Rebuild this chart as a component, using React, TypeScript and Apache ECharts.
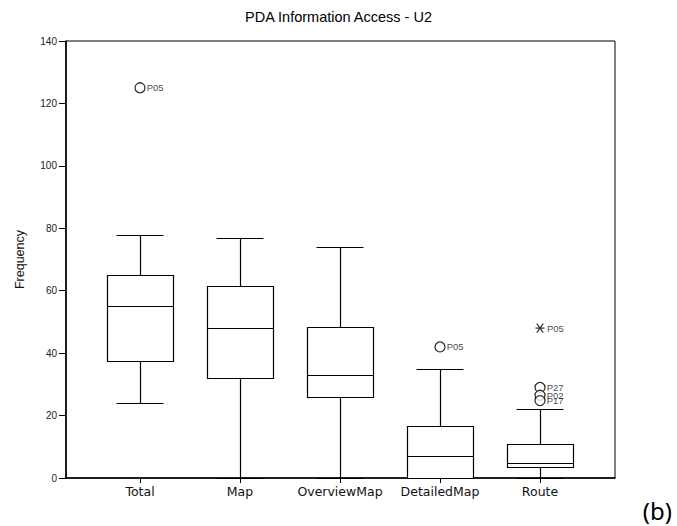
import React, { useEffect, useRef } from "react";
import * as echarts from "echarts";

const categories = ["Total", "Map", "OverviewMap", "DetailedMap", "Route"];
// [min, Q1, median, Q3, max] per category
const boxMin = [24, 0, 0, 0, 0];
const boxQ1 = [37.5, 32, 26, 0, 3.5];
const boxMedian = [55, 48, 33, 7, 4.8];
const boxQ3 = [65, 61.5, 48.5, 16.5, 11];
const boxMax = [78, 77, 74, 35, 22];

const outlierCats = [0, 3, 4, 4, 4];
const outlierValues = [125, 42, 29, 26.5, 24.8];
const outlierLabels = ["P05", "P05", "P27", "P02", "P17"];

const extremeCats = [4];
const extremeValues = [48];
const extremeLabels = ["P05"];

const yMin = 0;
const yMax = 140;
const yInterval = 20;

const title = "PDA Information Access - U2";
const yName = "Frequency";
const panelLabel = "(b)";

const SANS = "'Liberation Sans', Arial, sans-serif";

export default function App() {
  const ref = useRef<HTMLDivElement>(null);

  useEffect(() => {
    if (!ref.current) return;
    const chart = echarts.init(ref.current, undefined, { renderer: "svg" });

    const crisp = (v: number) => Math.round(v) + 0.5;

    const option: any = {
      animation: false,
      backgroundColor: "#fff",
      textStyle: { fontFamily: SANS, color: "#000" },
      title: {
        text: title,
        left: "center",
        top: 4,
        textStyle: { fontFamily: SANS, fontSize: 14.5, fontWeight: "normal", color: "#000" },
      },
      graphic: [
        {
          type: "text",
          style: {
            text: panelLabel,
            x: 672,
            y: 510,
            textAlign: "right",
            textVerticalAlign: "middle",
            fontFamily: "'Noto Sans', 'Open Sans', sans-serif",
            fontSize: 24,
            fill: "#000",
          },
        },
      ],
      grid: [
        {
          left: 66,
          top: 41,
          width: 549,
          height: 437,
          show: true,
          borderColor: "#000",
          borderWidth: 1,
          backgroundColor: "transparent",
        },
        { left: 90, top: 41, width: 500, height: 437 },
      ],
      xAxis: [
        {
          gridIndex: 0,
          type: "value",
          min: 0,
          max: 1,
          axisLine: { show: true, lineStyle: { color: "#000", width: 1.6 } },
          axisTick: { show: false },
          axisLabel: { show: false },
          splitLine: { show: false },
        },
        {
          gridIndex: 1,
          type: "category",
          data: categories,
          boundaryGap: true,
          axisLine: { show: false },
          axisTick: {
            show: true,
            alignWithLabel: true,
            interval: 0,
            length: 5,
            lineStyle: { color: "#000", width: 1 },
          },
          axisLabel: {
            interval: 0,
            margin: 7,
            fontFamily: "'DejaVu Sans', sans-serif",
            fontSize: 12.5,
            color: "#111",
          },
          splitLine: { show: false },
        },
      ],
      yAxis: [
        {
          gridIndex: 0,
          type: "value",
          min: yMin,
          max: yMax,
          interval: yInterval,
          name: yName,
          nameLocation: "middle",
          nameRotate: 90,
          nameGap: 40,
          nameTextStyle: { fontFamily: SANS, fontSize: 12.5, color: "#111" },
          axisLine: { show: true, lineStyle: { color: "#000", width: 1.6 } },
          axisTick: { show: true, length: 7, lineStyle: { color: "#000", width: 1 } },
          axisLabel: { margin: 9, fontFamily: SANS, fontSize: 10, color: "#222" },
          splitLine: { show: false },
        },
        {
          gridIndex: 1,
          type: "value",
          min: yMin,
          max: yMax,
          interval: yInterval,
          show: false,
        },
      ],
      series: [
        {
          type: "custom",
          name: "box",
          xAxisIndex: 1,
          yAxisIndex: 1,
          encode: { x: 0, y: [1, 2, 3, 4, 5] },
          data: categories.map((_, i) => [i, boxMin[i], boxQ1[i], boxMedian[i], boxQ3[i], boxMax[i]]),
          renderItem: (params: any, api: any) => {
            const idx = api.value(0);
            const band = api.size([1, 0])[0];
            const bw = band * 0.66;
            const cw = band * 0.47;
            const cx = api.coord([idx, 0])[0];
            const x = crisp(cx);
            const yLo = crisp(api.coord([idx, api.value(1)])[1]);
            const yQ1 = crisp(api.coord([idx, api.value(2)])[1]);
            const yMed = crisp(api.coord([idx, api.value(3)])[1]);
            const yQ3 = crisp(api.coord([idx, api.value(4)])[1]);
            const yHi = crisp(api.coord([idx, api.value(5)])[1]);
            const ls = { stroke: "#000", lineWidth: 1.2, fill: "none" };
            const bl = crisp(cx - bw / 2);
            const br = crisp(cx + bw / 2);
            return {
              type: "group",
              children: [
                { type: "line", shape: { x1: x, y1: yHi, x2: x, y2: yQ3 }, style: ls },
                { type: "line", shape: { x1: x, y1: yQ1, x2: x, y2: yLo }, style: ls },
                { type: "line", shape: { x1: cx - cw / 2, y1: yHi, x2: cx + cw / 2, y2: yHi }, style: ls },
                { type: "line", shape: { x1: cx - cw / 2, y1: yLo, x2: cx + cw / 2, y2: yLo }, style: ls },
                {
                  type: "rect",
                  shape: { x: bl, y: yQ3, width: br - bl, height: yQ1 - yQ3 },
                  style: { stroke: "#000", lineWidth: 1.2, fill: "#fff" },
                },
                { type: "line", shape: { x1: bl, y1: yMed, x2: br, y2: yMed }, style: ls },
              ],
            };
          },
          z: 2,
        },
        {
          type: "scatter",
          name: "outliers",
          xAxisIndex: 1,
          yAxisIndex: 1,
          symbol: "circle",
          symbolSize: 10,
          itemStyle: { color: "#fff", borderColor: "#000", borderWidth: 1.3 },
          label: {
            show: true,
            position: "right",
            distance: 1,
            formatter: "{b}",
            fontFamily: SANS,
            fontSize: 9.5,
            color: "#111",
          },
          data: outlierCats.map((c, i) => ({ name: outlierLabels[i], value: [c, outlierValues[i]] })),
          z: 3,
        },
        {
          type: "scatter",
          name: "extremes",
          xAxisIndex: 1,
          yAxisIndex: 1,
          symbol: "path://M0,0L10,10M10,0L0,10M-2,5L12,5",
          symbolSize: 9,
          itemStyle: { color: "none", borderColor: "#000", borderWidth: 1.2 },
          label: {
            show: true,
            position: "right",
            distance: 0,
            formatter: "{b}",
            fontFamily: SANS,
            fontSize: 9.5,
            color: "#111",
          },
          data: extremeCats.map((c, i) => ({ name: extremeLabels[i], value: [c, extremeValues[i]] })),
          z: 3,
        },
      ],
    };

    chart.setOption(option);
    return () => chart.dispose();
  }, []);

  return (
    <div
      ref={ref}
      style={{ position: "absolute", left: 0, top: 0, width: 677, height: 526 }}
    />
  );
}
